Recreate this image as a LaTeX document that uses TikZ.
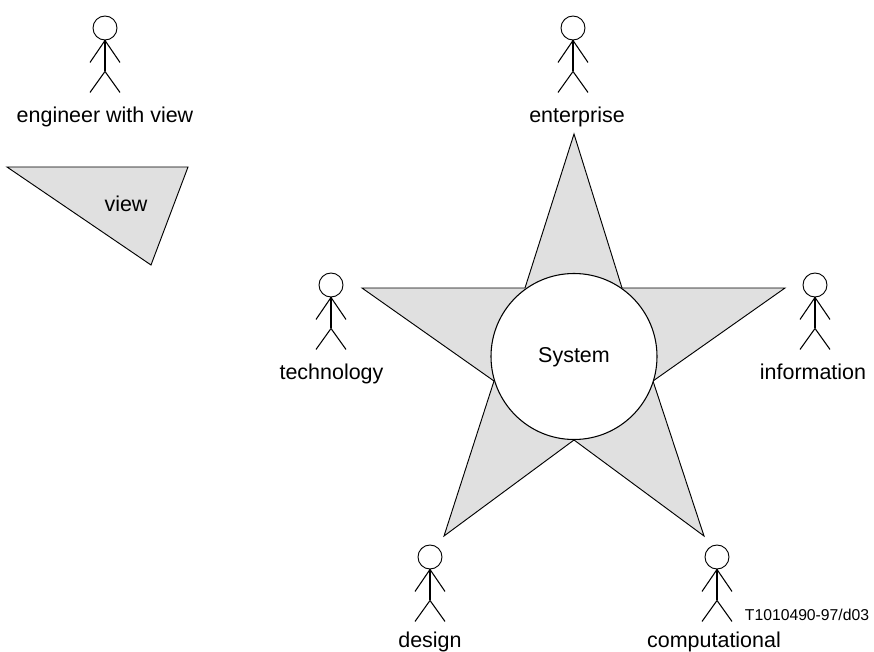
\documentclass[tikz,border=0pt]{standalone}
\usepackage{fontspec}
\setmainfont{Liberation Sans}
\definecolor{viewgrey}{HTML}{E0E0E0}
\tikzset{
  head/.style={draw,circle,inner sep=0pt,minimum size=18pt,line width=0.7pt},
  limb/.style={line width=0.8pt},
  spine/.style={line width=1.2pt},
  viewshape/.style={draw,fill=viewgrey,line width=0.7pt,line join=miter},
  lbl/.style={inner sep=0pt,anchor=base,font=\fontsize{16.1}{19}\selectfont},
  tag/.style={inner sep=0pt,anchor=base,font=\fontsize{11.8}{14}\selectfont}
}
\newcommand{\stickman}[2]{
  \node[head] (#1) at (#2) {};
  \draw[spine] (#1.south) -- ++(0,31) coordinate (#1hip);
  \draw[limb] (#1.south) -- ++(-15,22);
  \draw[limb] (#1.south) -- ++(15,22);
  \draw[limb] (#1hip) -- ++(-15,21);
  \draw[limb] (#1hip) -- ++(15,21);
}
\begin{document}
\begin{tikzpicture}[x=0.75pt,y=-0.75pt]
\useasboundingbox (0,0) rectangle (874,652);

\draw[viewshape] (7,167) -- (188,167) -- (151,265) -- cycle;
\draw[viewshape] (574,134) -- (622,288) -- (785,288) -- (653,381) -- (704,536)
  -- (574,440) -- (444,536) -- (494,381) -- (362,288) -- (525,288) -- cycle;
\node[draw,circle,fill=white,inner sep=0pt,minimum size=124.5pt,line width=0.8pt] (system) at (574,356.5) {};

\stickman{engineer}{105,28}
\stickman{enterprise}{573,28}
\stickman{technology}{331,285}
\stickman{information}{815,285}
\stickman{design}{430,557}
\stickman{computational}{717,557}

\node[lbl] (lengineer) at (105,123) {engineer with view};
\node[lbl] (lview) at (126,211.5) {view};
\node[lbl] (lenterprise) at (577,123) {enterprise};
\node[lbl] (lsystem) at (574,362) {System};
\node[lbl] (ltechnology) at (331.5,379) {technology};
\node[lbl] (linformation) at (813,379) {information};
\node[lbl] (ldesign) at (430,647) {design};
\node[lbl] (lcomputational) at (714,647) {computational};
\node[tag] (ltag) at (807,620.5) {T1010490-97/d03};
\end{tikzpicture}
\end{document}
